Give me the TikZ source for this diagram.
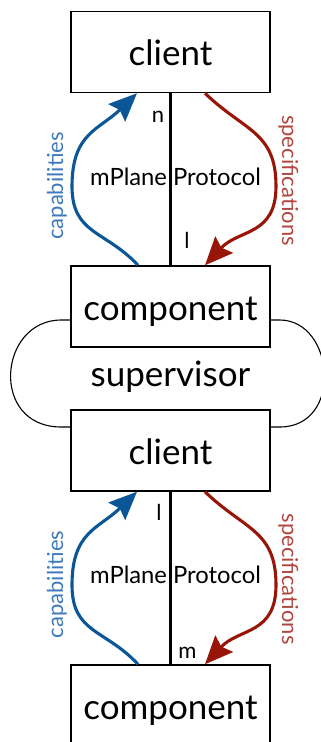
\documentclass[tikz,border=0pt]{standalone}
\usepackage{fontspec}
\setmainfont{Lato}
\usetikzlibrary{arrows.meta,calc}

\definecolor{capblue}{RGB}{10,86,150}
\definecolor{captext}{RGB}{62,122,188}
\definecolor{specred}{RGB}{152,22,8}
\definecolor{spectext}{RGB}{178,70,64}

\tikzset{
  box/.style={draw, line width=1.5pt, minimum width=199pt, minimum height=81pt,
    inner sep=0pt, font=\fontsize{35}{35}\selectfont, text height=30pt, text depth=3pt},
  protoline/.style={line width=3pt},
  loopline/.style={line width=1.1pt},
  capflow/.style={capblue, line width=3.1pt,
    -{Stealth[length=28pt,width=24pt,inset=4pt]}},
  specflow/.style={specred, line width=3.1pt,
    -{Stealth[length=28pt,width=24pt,inset=4pt]}},
  small/.style={font=\fontsize{22}{22}\selectfont, inner sep=0pt},
  proto/.style={font=\fontsize{23.8}{24}\selectfont, inner sep=0pt},
}

\begin{document}
\begin{tikzpicture}[x=1pt,y=1pt]
\useasboundingbox (0,0) rectangle (321,-742);
\clip (0,0) rectangle (321,-742);

% boxes
\node[box] (c1) at (170.5,-52) {client};
\node[box] (p1) at (170.5,-306.5) {component};
\node[box] (c2) at (170.5,-450.5) {client};
\node[box] (p2) at (170.5,-705.5) {component};

% supervisor loop between component and client
\coordinate (la) at ([yshift=-13.5pt]p1.west);
\coordinate (lb) at ([yshift=23.5pt]c2.west);
\coordinate (ra) at ([yshift=-13.5pt]p1.east);
\coordinate (rb) at ([yshift=23.5pt]c2.east);
\draw[loopline] (la) -- ++(-9,0) .. controls ++(-63,0) and ++(-72,0) .. ([xshift=-9pt]lb) -- (lb);
\draw[loopline] (ra) -- ++(9,0) .. controls ++(55,0) and ++(64,0) .. ([xshift=9pt]rb) -- (rb);
\node[font=\fontsize{35}{35}\selectfont, anchor=base] (sup) at (170.5,-386.5) {supervisor};

% protocol links
\foreach \top/\bot/\n in {c1/p1/u, c2/p2/d}{
  \draw[protoline] (\top.south) -- (\bot.north);
  \coordinate (\n s) at ([xshift=-32.5pt]\bot.north);
  \coordinate (\n e) at ([xshift=-33.5pt]\top.south);
  \coordinate (\n rs) at ([xshift=34.5pt]\top.south);
  \coordinate (\n re) at ([xshift=34.5pt]\bot.north);
  \coordinate (\n ml) at ($(\top.south)!0.5!(\bot.north)+(-98.5,-7)$);
  \coordinate (\n mr) at ($(\top.south)!0.5!(\bot.north)+(105.5,-7)$);
  \draw[capflow] (\n s) to[out=133,in=-90,looseness=1.2] (\n ml)
                        to[out=90,in=224,looseness=1.2] (\n e);
  \draw[specflow] (\n rs) to[out=-44,in=90,looseness=1.2] (\n mr)
                         to[out=-90,in=47,looseness=1.2] (\n re);
}

% protocol labels
\node[proto, anchor=base] (mp1) at (175.5,-185) {mPlane Protocol};
\node[proto, anchor=base] (mp2) at (175.5,-583) {mPlane Protocol};
\node[small, anchor=base] (n1) at (158,-122) {n};
\node[small, anchor=base] (l1) at (187,-248) {l};
\node[small, anchor=base] (l2) at (159,-520) {l};
\node[small, anchor=base] (m2) at (187.5,-658) {m};

% flow captions
\node[small, captext, rotate=90, anchor=base] (cap1) at (63,-186) {capabilities};
\node[small, captext, rotate=90, anchor=base] (cap2) at (63,-584.5) {capabilities};
\node[small, spectext, rotate=-90, anchor=base] (spc1) at (282,-180.5) {specifications};
\node[small, spectext, rotate=-90, anchor=base] (spc2) at (282,-579) {specifications};
\end{tikzpicture}
\end{document}
